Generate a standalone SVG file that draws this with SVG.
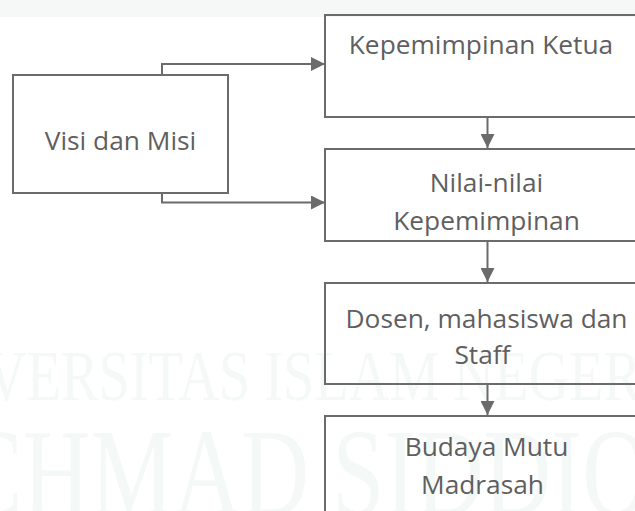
<svg xmlns="http://www.w3.org/2000/svg" width="635" height="511" viewBox="0 0 635 511">
  <defs>
    <style>
      .box { fill: none; stroke: #6b6b6b; stroke-width: 2; }
      .lbl { font-family: "Open Sans", "Noto Sans", "Liberation Sans", sans-serif; font-size: 26.3px; fill: #5f5f5f; text-anchor: middle; }
      .wire { fill: none; stroke: #6b6b6b; stroke-width: 2; }
      .mark { font-family: "Liberation Serif", serif; fill: #f4f8f7; }
    </style>
    <marker id="arrow" viewBox="0 0 14 14" refX="14" refY="7" markerWidth="14" markerHeight="14" markerUnits="userSpaceOnUse" orient="auto">
      <path d="M0,0 L14,7 L0,14 Z" fill="#6b6b6b"/>
    </marker>
  </defs>

  <rect x="0" y="0" width="635" height="511" fill="#ffffff"/>
  <rect x="0" y="0" width="635" height="17" fill="#f6f8f7"/>

  <!-- faint background lettering -->
  <g id="watermark">
    <text class="mark" x="-14" y="400" font-size="71" textLength="655" lengthAdjust="spacingAndGlyphs">VERSITAS ISLAM NEGER</text>
    <text class="mark" x="-40" y="515" font-size="125" textLength="690" lengthAdjust="spacingAndGlyphs">CHMAD SIDDIQ</text>
  </g>

  <g id="connectors">
    <path class="wire" d="M162,75 V64 H325" marker-end="url(#arrow)"/>
    <path class="wire" d="M162,193 V202.5 H325" marker-end="url(#arrow)"/>
    <path class="wire" d="M487.5,117 V148" marker-end="url(#arrow)"/>
    <path class="wire" d="M487.5,384 V415" marker-end="url(#arrow)"/>
    <path class="wire" d="M487.5,241 V282" marker-end="url(#arrow)"/>
  </g>

  <g id="visi-misi">
    <rect class="box" x="13" y="75" width="215" height="118"/>
    <text class="lbl" x="120.5" y="149.5">Visi dan Misi</text>
  </g>

  <g id="kepemimpinan-ketua">
    <rect class="box" x="325" y="15" width="330" height="102"/>
    <text class="lbl" x="481" y="54">Kepemimpinan Ketua</text>
  </g>

  <g id="nilai-kepemimpinan">
    <rect class="box" x="325" y="149" width="330" height="92"/>
    <text class="lbl" x="486.5" y="192">Nilai-nilai</text>
    <text class="lbl" x="486.5" y="230">Kepemimpinan</text>
  </g>

  <g id="dosen-mahasiswa-staff">
    <rect class="box" x="325" y="283" width="330" height="101"/>
    <text class="lbl" x="486.5" y="328">Dosen, mahasiswa dan</text>
    <text class="lbl" x="482.5" y="363.5">Staff</text>
  </g>

  <g id="budaya-mutu">
    <rect class="box" x="325" y="416" width="330" height="120"/>
    <text class="lbl" x="486.5" y="456">Budaya Mutu</text>
    <text class="lbl" x="482.5" y="494">Madrasah</text>
  </g>
</svg>
